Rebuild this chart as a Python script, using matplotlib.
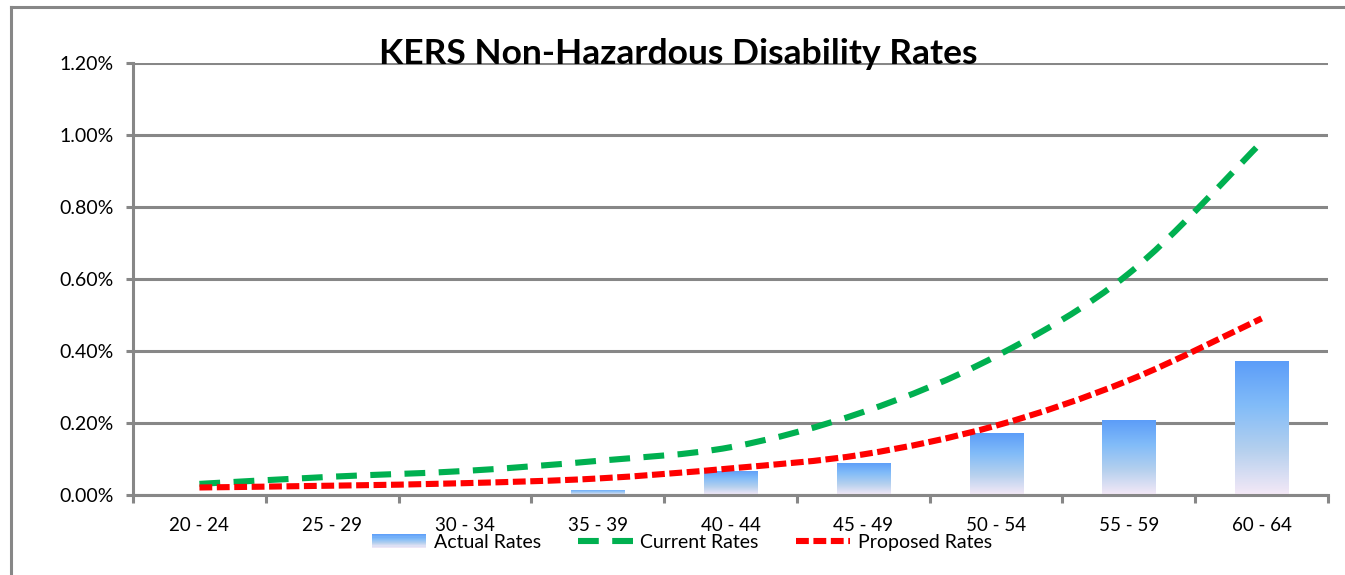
import numpy as np
import matplotlib
matplotlib.use("Agg")
import matplotlib.pyplot as plt
from matplotlib.path import Path
from matplotlib.patches import PathPatch, Rectangle
from matplotlib.lines import Line2D
from matplotlib.legend_handler import HandlerBase
from matplotlib.colors import LinearSegmentedColormap
from matplotlib.ticker import FuncFormatter

plt.rcParams['font.family'] = ['Lato', 'DejaVu Sans']

# age bands and rates (in percent)
age_bands = ['20 - 24', '25 - 29', '30 - 34', '35 - 39', '40 - 44',
             '45 - 49', '50 - 54', '55 - 59', '60 - 64']
actual_rates = [0.0, 0.0, 0.0, 0.014, 0.067, 0.089, 0.172, 0.207, 0.371]
current_rates = [0.030, 0.050, 0.066, 0.094, 0.132, 0.230, 0.385, 0.615, 0.980]
proposed_rates = [0.020, 0.025, 0.032, 0.045, 0.073, 0.112, 0.192, 0.318, 0.490]
y_ticks = [0.0, 0.2, 0.4, 0.6, 0.8, 1.0, 1.2]

GRAY = '#878787'
GREEN = '#00B050'
RED = '#FF0000'
bar_cmap = LinearSegmentedColormap.from_list(
    'bars', ['#F5E9F7', '#B5D0EE', '#82BCF8', '#5C9DF9'])


def smooth_path(xs, ys):
    # bezier through points, roughly like excel's smoothed line
    pts = np.column_stack([xs, ys]).astype(float)
    n = len(pts)
    verts = [pts[0]]
    codes = [Path.MOVETO]
    for i in range(n - 1):
        p0 = pts[i - 1] if i > 0 else pts[i]
        p1 = pts[i]
        p2 = pts[i + 1]
        p3 = pts[i + 2] if i + 2 < n else pts[i + 1]
        c1 = p1 + (p2 - p0) / 6.0
        c2 = p2 - (p3 - p1) / 6.0
        verts += [c1, c2, p2]
        codes += [Path.CURVE4] * 3
    return Path(verts, codes)


class GradientHandler(HandlerBase):
    def create_artists(self, legend, orig_handle, xdescent, ydescent,
                       width, height, fontsize, trans):
        arts = []
        steps = 12
        for k in range(steps):
            r = Rectangle((-xdescent, -ydescent + height * k / steps),
                          width, height / steps + 0.3,
                          facecolor=bar_cmap((k + 0.5) / steps),
                          edgecolor='none', transform=trans)
            arts.append(r)
        return arts


fig = plt.figure(figsize=(13.45, 5.75), dpi=100)
ax = fig.add_axes([0.0989, 0.1397, 0.8885, 0.7507])

x = np.arange(len(age_bands))
bars = ax.bar(x, actual_rates, width=0.4, color='none', edgecolor='none', zorder=2)
grad = np.linspace(0, 1, 256).reshape(-1, 1)
for b in bars:
    h = b.get_height()
    if h <= 0:
        continue
    x0 = b.get_x()
    im = ax.imshow(grad, cmap=bar_cmap, origin='lower', aspect='auto',
                   extent=[x0, x0 + b.get_width(), 0, h], zorder=2,
                   interpolation='bilinear')
    im.set_clip_path(b)

green_patch = PathPatch(smooth_path(x, current_rates), fill=False,
                        edgecolor=GREEN, linewidth=4.4, linestyle=(0, (3.4, 2.2)),
                        capstyle='butt', zorder=4)
red_patch = PathPatch(smooth_path(x, proposed_rates), fill=False,
                      edgecolor=RED, linewidth=4.4, linestyle=(0, (2.1, 0.75)),
                      capstyle='butt', zorder=5)
ax.add_patch(green_patch)
ax.add_patch(red_patch)

ax.set_xlim(-0.5, len(age_bands) - 0.5)
ax.set_ylim(0, 1.2)
ax.set_yticks(y_ticks)
ax.yaxis.set_major_formatter(FuncFormatter(lambda v, p: '%.2f%%' % v))
ax.yaxis.grid(True, color=GRAY, linewidth=2.2, zorder=0)
ax.set_axisbelow(True)

ax.set_xticks(x)
ax.set_xticklabels(age_bands)
ax.set_xticks(np.arange(len(age_bands) + 1) - 0.5, minor=True)
ax.tick_params(axis='x', which='major', length=0, pad=16, labelsize=13.5)
ax.tick_params(axis='x', which='minor', length=6, width=2.2, color=GRAY, direction='out')
ax.tick_params(axis='y', length=5, width=2.2, color=GRAY, pad=9, labelsize=14)

for s in ['top', 'right']:
    ax.spines[s].set_visible(False)
for s in ['left', 'bottom']:
    ax.spines[s].set_color(GRAY)
    ax.spines[s].set_linewidth(2.2)

# outer chart frame
fig.add_artist(Line2D([0.0082, 1.0], [0.9878, 0.9878], color=GRAY, linewidth=2.2))
fig.add_artist(Line2D([0.0082, 0.0082], [0.0, 0.9878], color=GRAY, linewidth=2.2))

fig.text(0.504, 0.906, 'KERS Non-Hazardous Disability Rates', ha='center',
         va='center', fontsize=25.5, fontweight='bold', zorder=10)

handles = [Rectangle((0, 0), 1, 1),
           Line2D([], [], color=GREEN, linewidth=4.4, linestyle=(0, (3.4, 2.2))),
           Line2D([], [], color=RED, linewidth=4.4, linestyle=(0, (2.1, 0.75)))]
labels = ['Actual Rates', 'Current Rates', 'Proposed Rates']
fig.legend(handles, labels, loc='center', bbox_to_anchor=(0.507, 0.057), ncol=3,
           frameon=False, fontsize=14, handlelength=2.8, handletextpad=0.4,
           columnspacing=1.9, handler_map={Rectangle: GradientHandler()})

fig.savefig('out.png', dpi=100)
